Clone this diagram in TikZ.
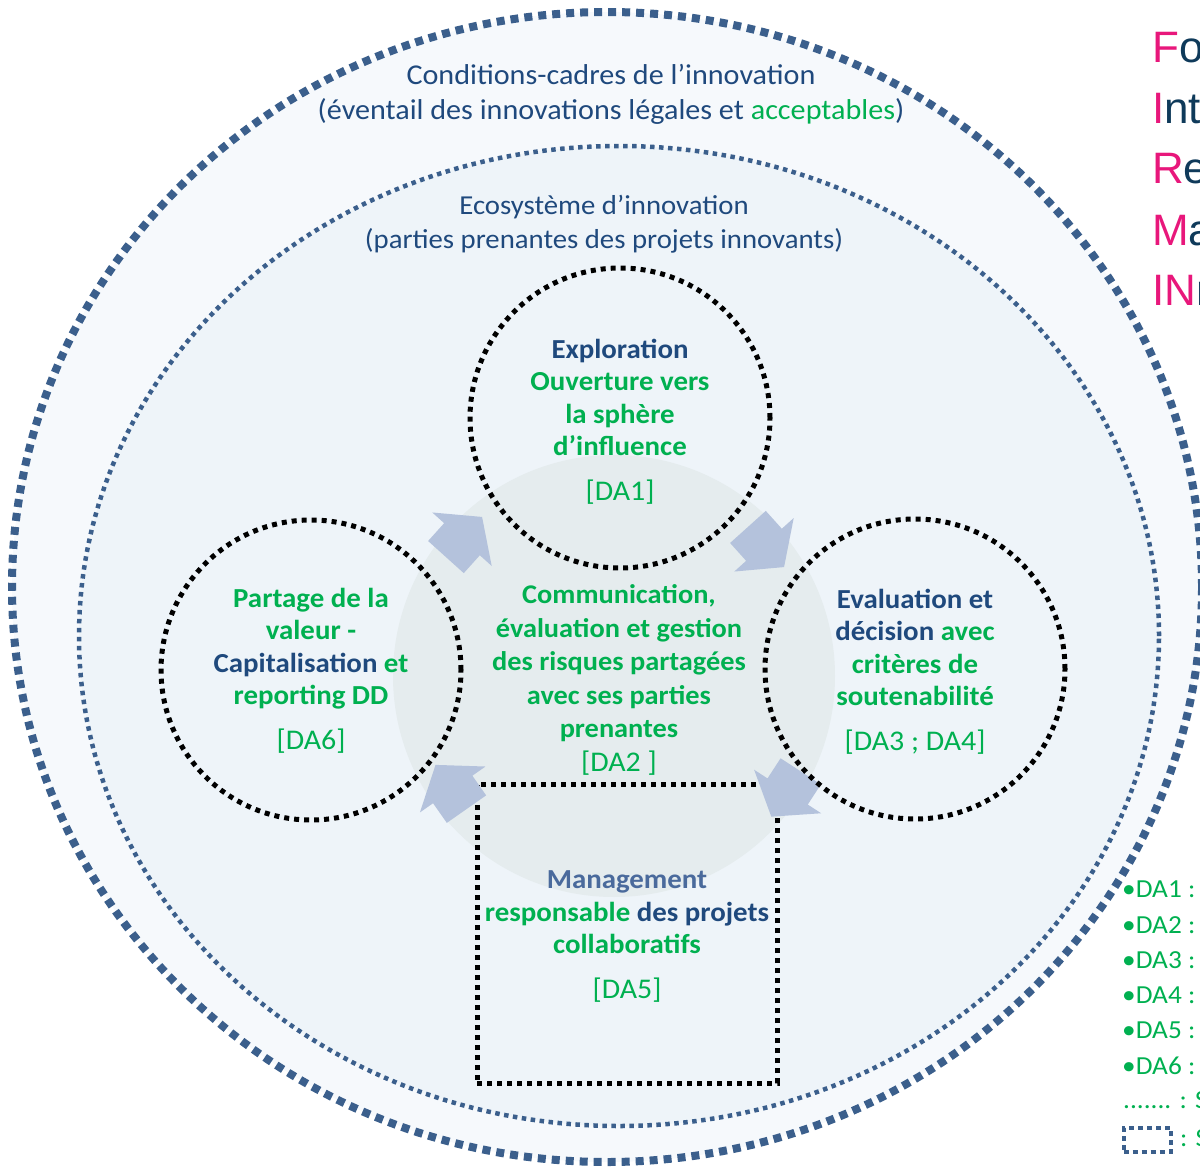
\documentclass[tikz,border=0pt]{standalone}
\usepackage{fontspec}
\setmainfont{Carlito}[FakeStretch=1.05]
\newfontfamily\arialf{Liberation Sans}
\usetikzlibrary{shapes.geometric}
\definecolor{dblue}{HTML}{1F497D}
\definecolor{mblue}{HTML}{4A6A9C}
\definecolor{dgreen}{HTML}{00B050}
\definecolor{ringblue}{HTML}{3B5F8C}
\definecolor{outerfill}{HTML}{F6F9FC}
\definecolor{innerfill}{HTML}{EEF4F9}
\definecolor{corefill}{HTML}{E5ECEE}
\definecolor{arrowfill}{HTML}{B4C2DC}
\definecolor{pinkc}{HTML}{E8177B}
\definecolor{navyc}{HTML}{0F3A5A}
\newcommand\circfont{\fontsize{27.5}{32.5}\selectfont\bfseries}
\newcommand\corefont{\fontsize{27}{33.5}\selectfont\bfseries}
\newcommand\dafont{\fontsize{28.5}{32}\selectfont\mdseries}
\newcommand\blockarr[3]{%
  \fill[arrowfill, shift={(#1,#2)}, rotate=#3]
    (-27,-24) -- (-3,-24) -- (-3,-40) -- (27,0) -- (-3,40) -- (-3,24) -- (-27,24) -- cycle;}
\tikzset{
  hdr/.style={font=\fontsize{28.7}{35}\selectfont, text=dblue, align=center},
  eco/.style={font=\fontsize{27.4}{34}\selectfont, text=dblue, align=center},
  blackdots/.style={draw=black, line width=5pt, dash pattern=on 5pt off 5pt},
  bigc/.style={circle, blackdots, minimum size=300pt},
  ctext/.style={align=center, font=\circfont, text=dgreen},
  dotbox/.style={rectangle, blackdots},
  sidefont/.style={anchor=base west, font=\arialf\fontsize{44}{44}\selectfont},
  legfont/.style={anchor=base west, font=\fontsize{26}{28}\selectfont, text=dgreen}
}
\begin{document}
\begin{tikzpicture}[x=1pt,y=-1pt, every node/.append style={inner sep=0pt}]
\useasboundingbox (0,0) rectangle (1200,1167);
% rings
\node[ellipse, fill=outerfill, draw=ringblue, line width=8pt, dash pattern=on 8pt off 6pt,
      minimum width=1190pt, minimum height=1150pt] (outer) at (607,587) {};
\node[ellipse, fill=innerfill, draw=ringblue, line width=4.5pt, dash pattern=on 4.5pt off 4.5pt,
      minimum width=1080pt, minimum height=980pt] (inner) at (619,636) {};
% headings
\node[hdr] (hdr) at (611,94) {Conditions-cadres de l’innovation\\(éventail des innovations légales et {\color{dgreen}acceptables})};
\node[eco] (eco) at (604,224) {Ecosystème d’innovation\\(parties prenantes des projets innovants)};
% core
\node[circle, fill=corefill, minimum size=442pt] (core) at (614,676) {};
\node[align=center, font=\corefont, text=dgreen] (coret) at (619,680)
  {Communication,\\évaluation et gestion\\des risques partagées\\avec ses parties\\prenantes\\{\dafont[DA2 ]}};
% DA5 box
\node[dotbox, minimum width=300pt, minimum height=299pt] (da5) at (627,933.5) {};
\node[ctext] (da5t) at (627,936.5)
  {{\color{mblue}Management}\\responsable {\color{dblue}des projets}\\collaboratifs\\[12pt]{\dafont[DA5]}};
% arrows
\blockarr{464}{537}{48}
\blockarr{766}{547}{-48}
\blockarr{786}{794}{-123}
\blockarr{451}{787}{125}
% circles
\node[bigc] (da1) at (620,418) {};
\node[ctext] (da1t) at (620,422)
  {{\color{dblue}Exploration}\\Ouverture vers\\la sphère\\d'influence\\[12.5pt]{\dafont[DA1]}};
\node[bigc] (da6) at (311,670) {};
\node[ctext] (da6t) at (311,671)
  {Partage de la\\valeur -\\{\color{dblue}Capitalisation} et\\reporting DD\\[12.5pt]{\dafont[DA6]}};
\node[bigc] (da3) at (915,669) {};
\node[ctext] (da3t) at (915,672)
  {{\color{dblue}Evaluation et}\\{\color{dblue}décision} avec\\critères de\\soutenabilité\\[12.5pt]{\dafont[DA3 ; DA4]}};
% side letters
\node[sidefont] (s1) at (1152,62) {{\color{pinkc}F}{\color{navyc}o}};
\node[sidefont] (s2) at (1152,123) {{\color{pinkc}I}{\color{navyc}nt}};
\node[sidefont] (s3) at (1152,183) {{\color{pinkc}R}{\color{navyc}e}};
\node[sidefont] (s4) at (1152,245) {{\color{pinkc}M}{\color{navyc}a}};
\node[sidefont] (s5) at (1152,305) {{\color{pinkc}IN}{\color{navyc}n}};
% legend
\foreach \i/\yy in {1/897,2/933,3/968,4/1003,5/1038,6/1074}
  \node[legfont] (leg\i) at (1122,\yy) {•DA\i\ :};
\node[legfont] (legdots) at (1123,1108) {....... : S};
\node[draw=ringblue, line width=4pt, dash pattern=on 5pt off 4pt, minimum width=47pt, minimum height=24pt] (legsq) at (1147,1140) {};
\node[legfont] (legsqt) at (1180,1146) {: S};
\end{tikzpicture}
\end{document}
